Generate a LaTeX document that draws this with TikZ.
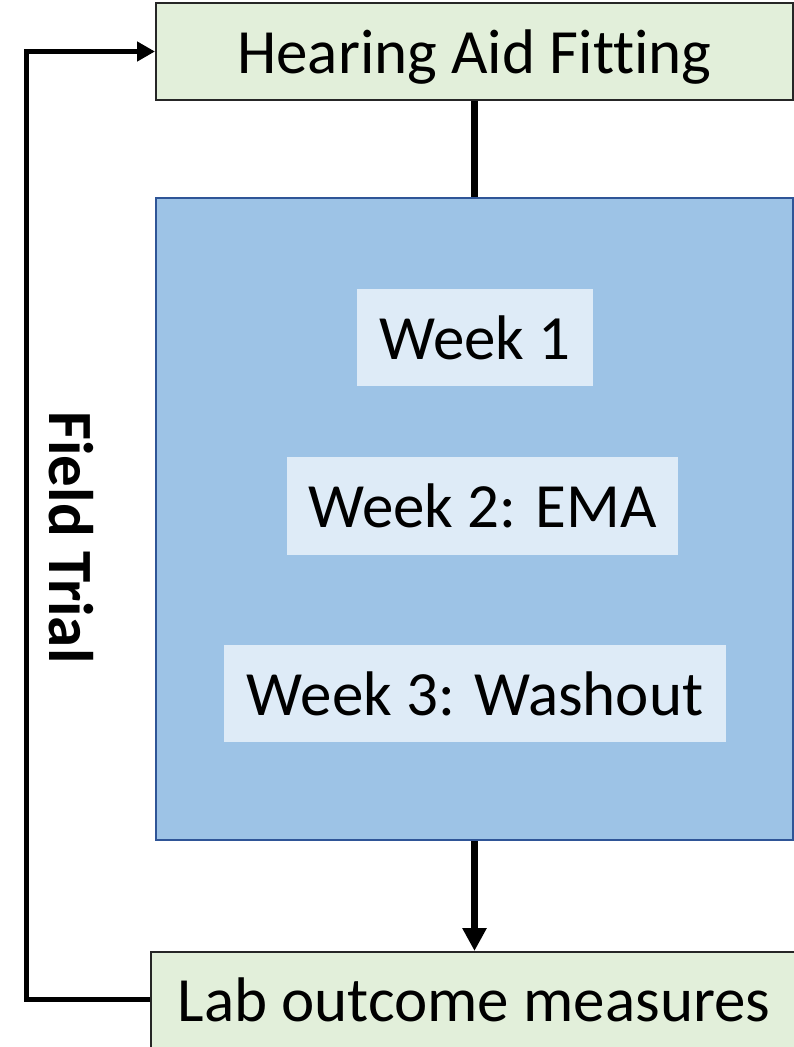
\documentclass[tikz,border=0pt]{standalone}
\usepackage{fontspec}
\setmainfont[Ligatures=NoCommon]{Carlito}
\usetikzlibrary{arrows.meta}
\definecolor{boxgreen}{HTML}{E2EFDA}
\definecolor{boxblue}{HTML}{9DC3E6}
\definecolor{boxblueedge}{HTML}{2F5597}
\definecolor{weekfill}{HTML}{DEEBF7}
\tikzset{
  lbl/.style={font=\fontsize{63}{70}\selectfont, text height=43pt, text depth=0pt, inner sep=0pt, align=center},
  greenbox/.style={lbl, draw=black!85, line width=2pt, fill=boxgreen},
  bluebox/.style={draw=boxblueedge, line width=2.5pt, fill=boxblue, inner sep=0pt},
  weekbox/.style={lbl, fill=weekfill},
  conn/.style={line width=7pt},
  loopline/.style={line width=5pt}
}
\begin{document}
\begin{tikzpicture}[x=1pt,y=-1pt]
\useasboundingbox (0,0) rectangle (794,1047);
\clip (0,0) rectangle (794,1047);
\node[greenbox, minimum width=637pt, minimum height=97pt] (fit) at (474.5,51.5) {Hearing Aid Fitting};
\node[bluebox, minimum width=637pt, minimum height=642pt] (field) at (474.5,519) {};
\node[weekbox, minimum width=236pt, minimum height=97pt] (w1) at (475,337.5) {Week 1};
\node[weekbox, minimum width=391pt, minimum height=98pt] (w2) at (482.5,506) {Week 2: EMA};
\node[weekbox, minimum width=502pt, minimum height=97pt] (w3) at (475,693.5) {Week 3: Washout};
\node[greenbox, minimum width=646pt, minimum height=96pt] (lab) at (474,1000) {Lab outcome measures};
\node[lbl, font=\fontsize{63}{70}\selectfont\bfseries, rotate=-90] (ft) at (71,537.5) {Field Trial};
\draw[conn] (fit.south) -- (field.north);
\draw[conn, -{Triangle[length=23pt,width=23pt]}] (field.south) -- (field.south |- lab.north);
\coordinate (c1) at (26,999);
\coordinate (c2) at (26,51.5);
\draw[loopline, -{Triangle[length=18pt,width=19pt]}] (lab.west |- c1) -- (c1) -- (c2) -- (fit.west);
\end{tikzpicture}
\end{document}
